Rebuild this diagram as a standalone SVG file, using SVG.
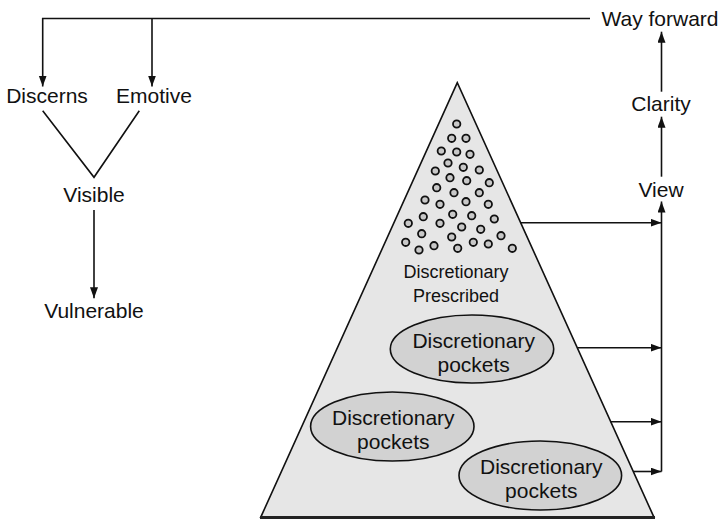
<svg xmlns="http://www.w3.org/2000/svg" width="724" height="519" viewBox="0 0 724 519">
<style>
text{font-family:"Liberation Sans",Arial,sans-serif;fill:#111;text-anchor:middle}
.t{font-size:21px}
.s{font-size:18px}
.ln{stroke:#111;stroke-width:1.6;fill:none}
.el{fill:#d2d2d2;stroke:#111;stroke-width:1.6}
.dot{fill:#c8c8c8;stroke:#111;stroke-width:1.8}
</style>
<defs>
<marker id="ah" markerUnits="userSpaceOnUse" markerWidth="12" markerHeight="10" refX="11" refY="4" orient="auto">
<path d="M0,0 L11,4 L0,8 Z" fill="#111"/>
</marker>
</defs>
<g id="pyramid">
<polygon points="457.3,82.7 260.7,517.3 654,517.3" fill="#e6e6e6" stroke="#111" stroke-width="1.6"/>
<line x1="260" y1="517.5" x2="655" y2="517.5" stroke="#222" stroke-width="3"/>
</g>
<g id="dots">
<circle class="dot" cx="456.7" cy="124" r="3.7"/>
<circle class="dot" cx="451.7" cy="138.3" r="3.7"/>
<circle class="dot" cx="466" cy="138.3" r="3.7"/>
<circle class="dot" cx="441.3" cy="151" r="3.7"/>
<circle class="dot" cx="456.7" cy="152" r="3.7"/>
<circle class="dot" cx="470" cy="154.3" r="3.7"/>
<circle class="dot" cx="448" cy="163" r="3.7"/>
<circle class="dot" cx="463.3" cy="167.3" r="3.7"/>
<circle class="dot" cx="479.3" cy="170" r="3.7"/>
<circle class="dot" cx="435.3" cy="171" r="3.7"/>
<circle class="dot" cx="450" cy="177.7" r="3.7"/>
<circle class="dot" cx="466.7" cy="180.7" r="3.7"/>
<circle class="dot" cx="489.3" cy="182.7" r="3.7"/>
<circle class="dot" cx="436.7" cy="187.7" r="3.7"/>
<circle class="dot" cx="454" cy="192.7" r="3.7"/>
<circle class="dot" cx="479.3" cy="192.7" r="3.7"/>
<circle class="dot" cx="425" cy="200" r="3.7"/>
<circle class="dot" cx="440" cy="204.3" r="3.7"/>
<circle class="dot" cx="466" cy="201.7" r="3.7"/>
<circle class="dot" cx="488.3" cy="204.3" r="3.7"/>
<circle class="dot" cx="452.7" cy="214.3" r="3.7"/>
<circle class="dot" cx="471.7" cy="215.7" r="3.7"/>
<circle class="dot" cx="423.3" cy="216.7" r="3.7"/>
<circle class="dot" cx="494.3" cy="219" r="3.7"/>
<circle class="dot" cx="440" cy="223.3" r="3.7"/>
<circle class="dot" cx="408.3" cy="223.3" r="3.7"/>
<circle class="dot" cx="461.7" cy="227" r="3.7"/>
<circle class="dot" cx="480.7" cy="229.3" r="3.7"/>
<circle class="dot" cx="421.7" cy="233.7" r="3.7"/>
<circle class="dot" cx="501" cy="235.7" r="3.7"/>
<circle class="dot" cx="451.7" cy="237" r="3.7"/>
<circle class="dot" cx="405.7" cy="242.3" r="3.7"/>
<circle class="dot" cx="473.3" cy="242.3" r="3.7"/>
<circle class="dot" cx="488.3" cy="244" r="3.7"/>
<circle class="dot" cx="434" cy="245.7" r="3.7"/>
<circle class="dot" cx="419" cy="250" r="3.7"/>
<circle class="dot" cx="457.7" cy="248.3" r="3.7"/>
<circle class="dot" cx="512.3" cy="248.3" r="3.7"/>
</g>
<g id="prescribed">
<text class="s" x="456" y="278.3">Discretionary</text>
<text class="s" x="456" y="301.7">Prescribed</text>
</g>
<g id="pocket1">
<ellipse class="el" cx="472" cy="349" rx="81.7" ry="34"/>
<text class="t" x="473.7" y="347.5">Discretionary</text>
<text class="t" x="473.7" y="372">pockets</text>
</g>
<g id="pocket2">
<ellipse class="el" cx="392.3" cy="426.5" rx="81.7" ry="34.5"/>
<text class="t" x="393.3" y="425">Discretionary</text>
<text class="t" x="393.3" y="449">pockets</text>
</g>
<g id="pocket3">
<ellipse class="el" cx="540.3" cy="475.5" rx="81.3" ry="34.5"/>
<text class="t" x="541.3" y="473.5">Discretionary</text>
<text class="t" x="541.3" y="498.3">pockets</text>
</g>
<g id="discerns"><text class="t" x="47" y="102.5">Discerns</text></g>
<g id="emotive"><text class="t" x="154" y="102.5">Emotive</text></g>
<g id="visible"><text class="t" x="94" y="201.7">Visible</text></g>
<g id="vulnerable"><text class="t" x="94" y="318.3">Vulnerable</text></g>
<g id="wayforward"><text class="t" x="660" y="26">Way forward</text></g>
<g id="clarity"><text class="t" x="661" y="111">Clarity</text></g>
<g id="view"><text class="t" x="661" y="196.7">View</text></g>
<g id="connectors">
<polyline class="ln" points="590,18.5 42.7,18.5 42.7,86.5" marker-end="url(#ah)"/>
<line class="ln" x1="152" y1="18.5" x2="152" y2="86.5" marker-end="url(#ah)"/>
<polyline class="ln" points="42.7,110.7 94,177.3 139.3,110.7"/>
<line class="ln" x1="94" y1="210" x2="94" y2="298.3" marker-end="url(#ah)"/>
<line class="ln" x1="661.5" y1="471.5" x2="661.5" y2="201.5" marker-end="url(#ah)"/>
<line class="ln" x1="661.5" y1="176.7" x2="661.5" y2="116.7" marker-end="url(#ah)"/>
<line class="ln" x1="661.5" y1="91.7" x2="661.5" y2="31.7" marker-end="url(#ah)"/>
<line class="ln" x1="520.5" y1="222.7" x2="661.5" y2="222.7" marker-end="url(#ah)"/>
<line class="ln" x1="577.5" y1="347.7" x2="661.5" y2="347.7" marker-end="url(#ah)"/>
<line class="ln" x1="610.5" y1="421.7" x2="661.5" y2="421.7" marker-end="url(#ah)"/>
<line class="ln" x1="633" y1="471.5" x2="661.5" y2="471.5" marker-end="url(#ah)"/>
</g>
</svg>
